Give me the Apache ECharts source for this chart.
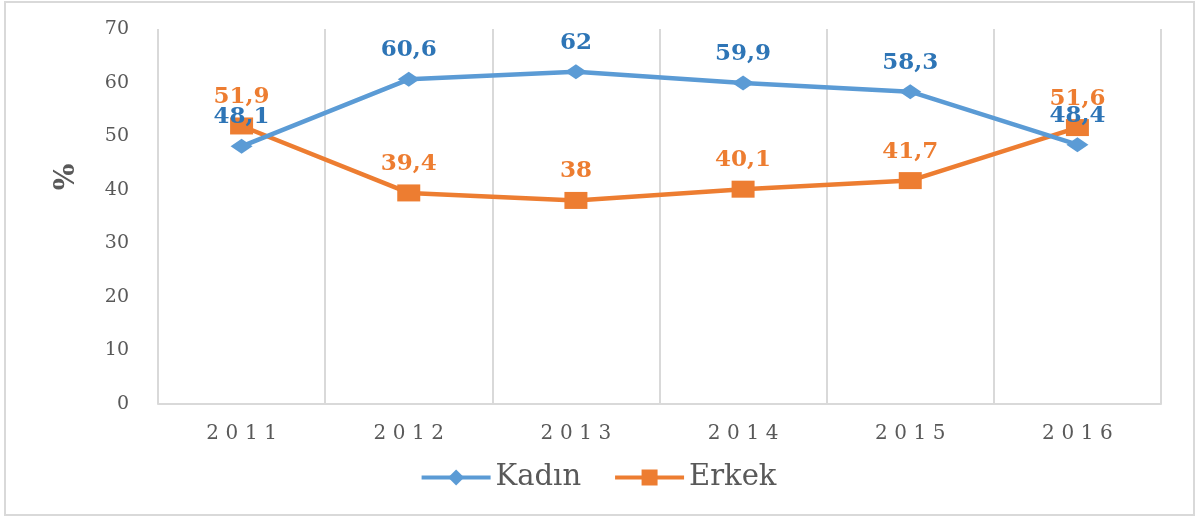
<!DOCTYPE html>
<html>
<head>
<meta charset="utf-8">
<script src="https://cdn.jsdelivr.net/npm/echarts@6/dist/echarts.min.js"></script>
<style>
  html, body { margin: 0; padding: 0; background: #fff; }
  #chart { width: 1196px; height: 517px; }
</style>
</head>
<body>
<div id="chart"></div>
<script>
// yillar ve oranlar (%)
var years = ['2011', '2012', '2013', '2014', '2015', '2016'];
var kadin = [48.1, 60.6, 62, 59.9, 58.3, 48.4];
var erkek = [51.9, 39.4, 38, 40.1, 41.7, 51.6];
var yTicks = { min: 0, max: 70, interval: 10 };

var serif = 'DejaVu Serif';
var grey = '#595959';

function commaLabel(p) {
	return String(p.value).replace('.', ',');
}

var myChart = echarts.init(document.getElementById('chart'));
var option = {
	animation: false,
	textStyle: { fontFamily: serif },
	graphic: [
		{
			type: 'rect',
			shape: { x: 5, y: 2, width: 1189, height: 513 },
			style: { fill: 'none', stroke: '#d9d9d9', lineWidth: 2 },
			silent: true
		},
		{
			type: 'text',
			x: 67, y: 177,
			rotation: Math.PI / 2,
			style: {
				text: '%',
				font: 'bold 28px "DejaVu Serif"',
				fill: grey,
				align: 'center',
				verticalAlign: 'middle'
			}
		}
	],
	grid: { left: 158, right: 35, top: 29, bottom: 113 },
	legend: {
		bottom: 20,
		left: 'center',
		itemWidth: 69,
		itemHeight: 20,
		itemGap: 32,
		lineStyle: { width: 4 },
		textStyle: { fontFamily: serif, fontSize: 29, color: grey },
		data: ['Kadın', 'Erkek']
	},
	xAxis: {
		type: 'category',
		boundaryGap: true,
		data: years,
		axisLine: { lineStyle: { color: '#d9d9d9', width: 2 } },
		axisTick: { show: false },
		splitLine: { show: true, lineStyle: { color: '#d9d9d9', width: 2 } },
		axisLabel: {
			margin: 20,
			fontSize: 20,
			color: grey,
			fontFamily: serif,
			formatter: function (v) { return v.split('').join('\u2004'); }
		}
	},
	yAxis: {
		type: 'value',
		min: yTicks.min,
		max: yTicks.max,
		interval: yTicks.interval,
		axisLine: { show: false },
		axisTick: { show: false },
		splitLine: { show: false },
		axisLabel: { margin: 29, fontSize: 19, color: grey, fontFamily: serif }
	},
	series: [
		{
			name: 'Erkek',
			type: 'line',
			data: erkek,
			symbol: 'rect',
			symbolSize: [23, 17],
			lineStyle: { color: '#ED7D31', width: 4.5 },
			itemStyle: { color: '#ED7D31' },
			label: {
				show: true,
				position: 'top',
				distance: 9,
				formatter: commaLabel,
				fontFamily: serif,
				fontWeight: 'bold',
				fontSize: 23,
				color: '#ED7D31'
			},
			z: 2
		},
		{
			name: 'Kadın',
			type: 'line',
			data: kadin,
			symbol: 'diamond',
			symbolSize: [22, 15],
			lineStyle: { color: '#5B9BD5', width: 4.5 },
			itemStyle: { color: '#5B9BD5' },
			label: {
				show: true,
				position: 'top',
				distance: 10,
				formatter: commaLabel,
				fontFamily: serif,
				fontWeight: 'bold',
				fontSize: 23,
				color: '#2E75B6'
			},
			z: 3
		}
	]
};
myChart.setOption(option);
</script>
</body>
</html>
